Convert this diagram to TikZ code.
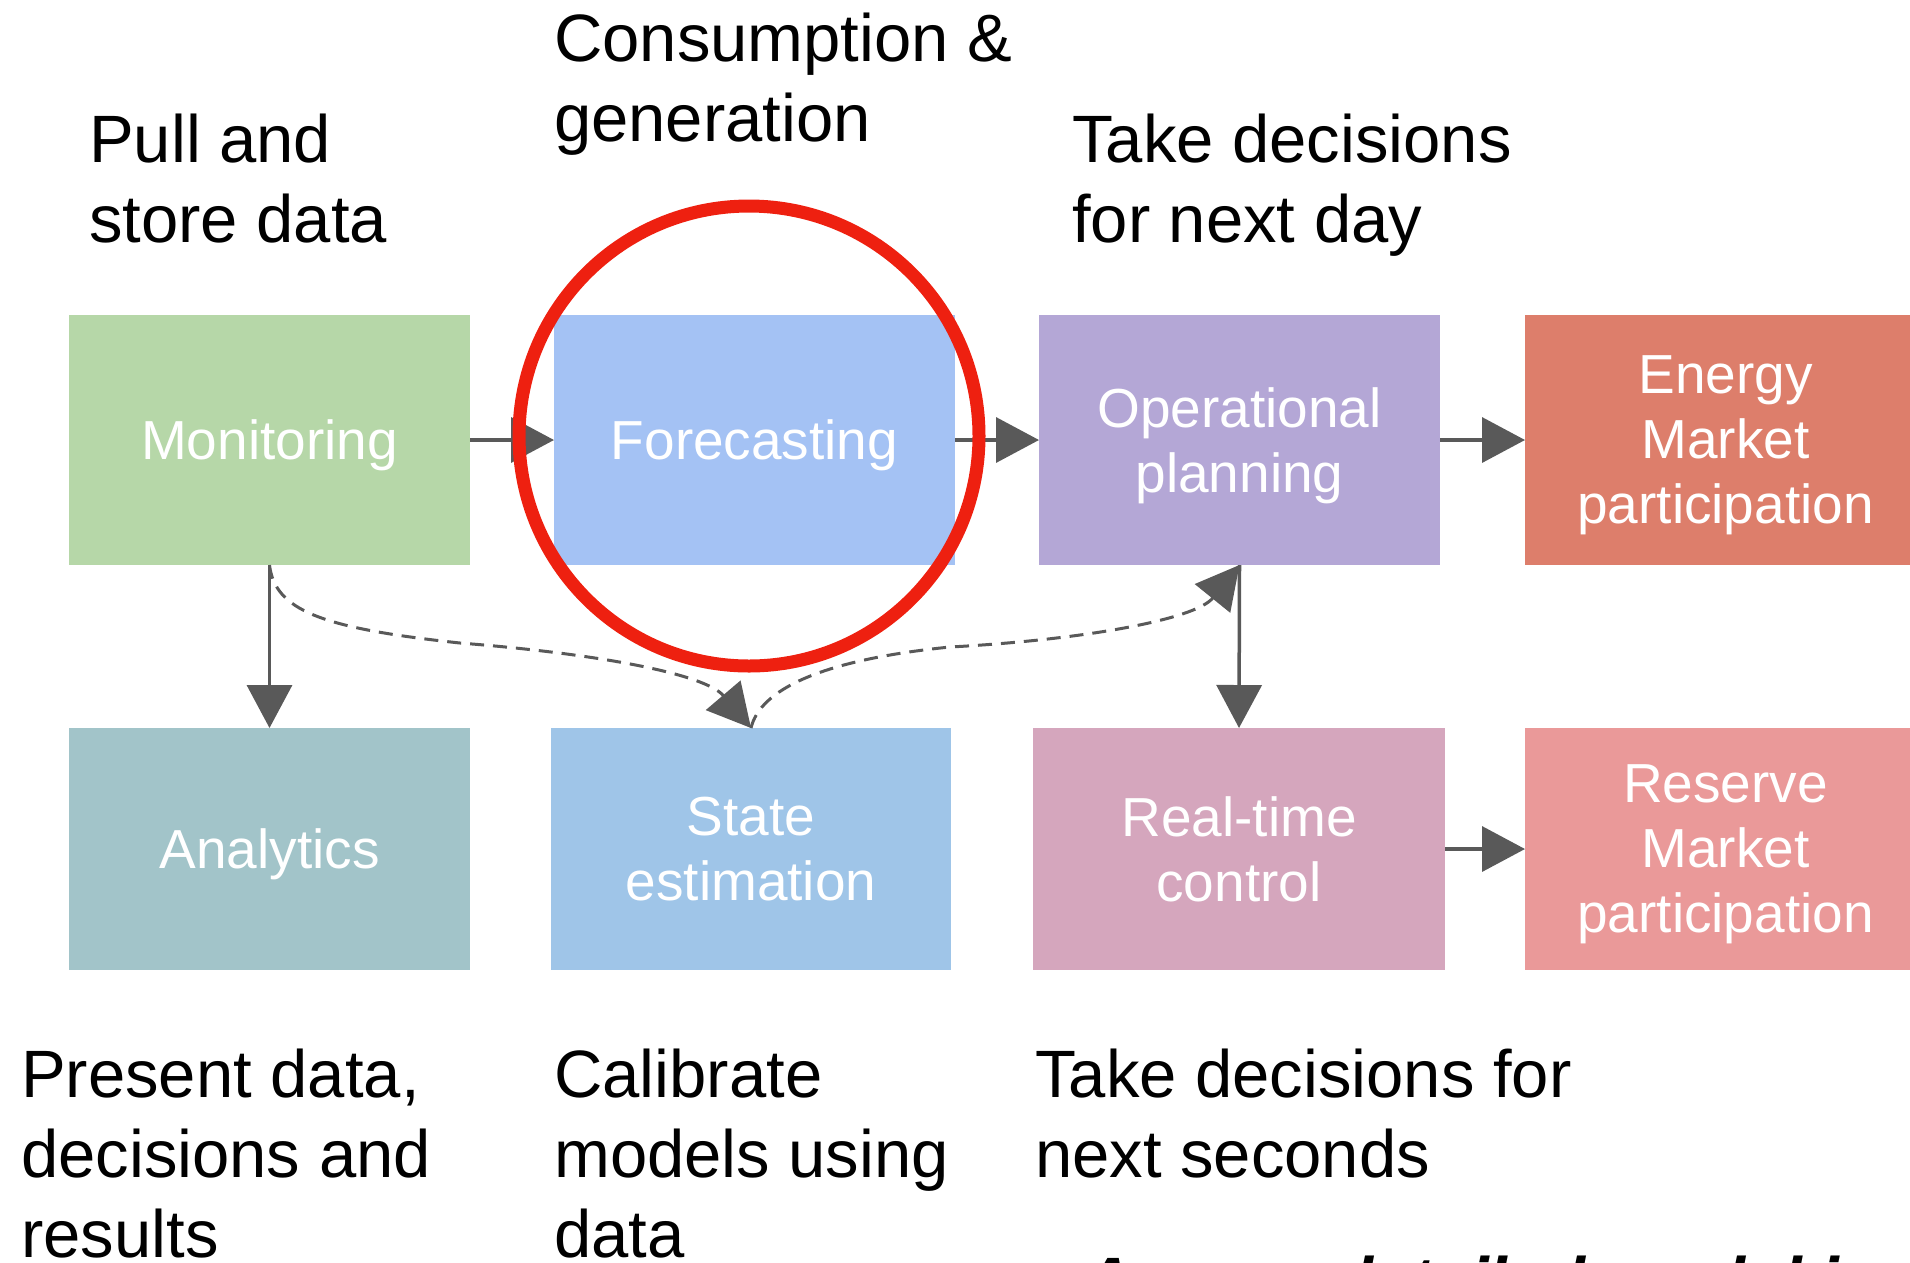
\documentclass[tikz,border=0pt]{standalone}
\usepackage{fontspec}
\setmainfont{Liberation Sans}
\usetikzlibrary{arrows.meta}
\definecolor{cmon}{HTML}{B6D7A8}
\definecolor{cfore}{HTML}{A4C2F4}
\definecolor{cop}{HTML}{B4A7D6}
\definecolor{cen}{HTML}{DD7E6B}
\definecolor{can}{HTML}{A2C4C9}
\definecolor{cse}{HTML}{9FC5E8}
\definecolor{crt}{HTML}{D5A6BD}
\definecolor{cres}{HTML}{EA9999}
\definecolor{carrow}{HTML}{595959}
\definecolor{cred}{HTML}{EE2010}
\tikzset{
  box/.style={rectangle, inner sep=0pt, outer sep=0pt, text=white, align=center,
    text depth=0pt, font=\fontsize{55}{65}\selectfont},
  toprow/.style={box, minimum height=250pt},
  botrow/.style={box, minimum height=242pt},
  lbl/.style={anchor=base west, inner sep=0pt, align=left, text=black,
    font=\fontsize{67}{80}\selectfont},
  conn/.style={draw=carrow, line width=3.5pt, -{Triangle[length=43pt,width=45pt]}},
  dconn/.style={draw=carrow, line width=3pt, dash pattern=on 14pt off 9pt,
    -{Triangle[length=43pt,width=45pt]}},
  ring/.style={draw=cred, line width=13pt, circle, inner sep=0pt, minimum size=460pt}
}
\begin{document}
\begin{tikzpicture}[x=1pt,y=-1pt]
\useasboundingbox (0,0) rectangle (1910,1262);
% boxes
\node[toprow, fill=cmon, minimum width=401pt] (mon) at (269.5,440) {Monitoring};
\node[toprow, fill=cfore, minimum width=401pt] (fore) at (754.5,440) {Forecasting};
\node[toprow, fill=cop, minimum width=401pt] (op) at (1239.5,440) {Operational\\planning};
\node[toprow, fill=cen, minimum width=401pt] (en) at (1725.5,440) {Energy\\Market\\participation};
\node[botrow, fill=can, minimum width=401pt] (an) at (269.5,849) {Analytics};
\node[botrow, fill=cse, minimum width=400pt] (se) at (751,849) {State\\estimation};
\node[botrow, fill=crt, minimum width=412pt] (rt) at (1239,849) {Real-time\\control};
\node[botrow, fill=cres, minimum width=401pt] (res) at (1725.5,849) {Reserve\\Market\\participation};
% labels (base anchor = baseline of the last line)
\node[lbl] (pull) at (89,242) {Pull and\\store data};
\node[lbl] (cons) at (554,141) {Consumption \&\\generation};
\node[lbl] (take1) at (1072,242) {Take decisions\\for next day};
\node[lbl] (pres) at (21,1257) {Present data,\\decisions and\\results};
\node[lbl] (cal) at (554,1257) {Calibrate\\models using\\data};
\node[lbl] (take2) at (1035,1177) {Take decisions for\\next seconds};
\node[lbl, font=\fontsize{67}{80}\selectfont\bfseries\itshape] (note) at (1083,1304) {A more detailed model is used};
% connectors
\draw[conn] (mon.east) -- (fore.west);
\draw[conn] (fore.east) -- (op.west);
\draw[conn] (op.east) -- (en.west);
\draw[conn] (rt.east) -- (res.west);
\draw[conn] (mon.south) -- (an.north);
\draw[conn] (op.south) -- (rt.north);
\draw[dconn] (mon.south) .. controls (275,610) and (320,628) .. (460,643)
  .. controls (600,654) and (705,674) .. (se.north);
\draw[dconn] (se.north) .. controls (760,690) and (820,660) .. (950,647)
  .. controls (1080,640) and (1195,620) .. (op.south);
% highlight ring
\node[ring] (hl) at (749,436) {};
\end{tikzpicture}
\end{document}
